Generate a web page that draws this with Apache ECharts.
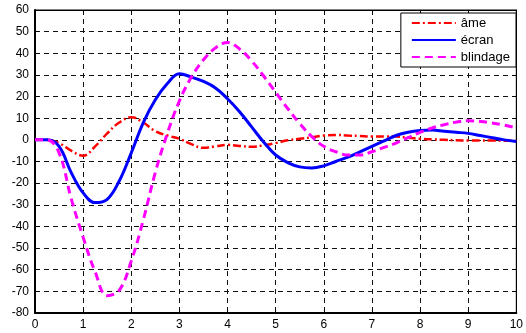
<!DOCTYPE html>
<html><head><meta charset="utf-8">
<script src="https://cdn.jsdelivr.net/npm/echarts@6/dist/echarts.min.js"></script>
<style>html,body{margin:0;padding:0;background:#fff}#c{width:526px;height:333px}</style>
</head><body><div id="c"></div>
<script>
const t = [0,0.25,0.5,0.75,1,1.25,1.5,1.75,2,2.25,2.5,2.75,3,3.25,3.5,3.75,4,4.25,4.5,4.75,5,5.25,5.5,5.75,6,6.25,6.5,6.75,7,7.25,7.5,7.75,8,8.25,8.5,8.75,9,9.25,9.5,9.75,10];
const ame = [0,0,-1.5,-5,-7.3,-3,3,8,10.5,8,4,2,0.5,-2,-3.7,-3,-2.3,-2.8,-3.2,-2.5,-1.5,-0.2,0.5,1.2,2,2.3,2,1.8,1.5,1.5,1.5,1,0.5,0.2,0,-0.2,-0.3,-0.3,-0.3,-0.4,-0.5];
const ecran = [0,0,-3,-15,-24.5,-29,-27.5,-19,-6,8,18.5,26,30.5,29,27,24,19,13,6,-1,-7,-10.5,-12.5,-13,-12,-10,-8,-5.5,-3,-0.5,2,3.5,4.3,4.5,4,3.5,3,2,1,0,-0.8];
const blindage = [0,0,-6,-27,-45,-61,-72,-69.5,-56,-37,-15,3,18,29,37,42.5,45,42,36.5,29.5,22,14.5,7.5,1.5,-3,-5.5,-7,-7,-5.5,-3.5,-1.5,1,3.5,5.5,7,8.2,8.8,8.5,7.8,6.8,5.5];
const names = ['âme','écran','blindage'];
const xTicks = [0,10,1];
const yTicks = [-80,60,10];

const pair = arr => t.map((x,i)=>[x,arr[i]]);
const font = 'Liberation Sans, Arial, sans-serif';
const gridLine = {show:true, lineStyle:{color:'#111', width:1, type:[5,4]}};
const chart = echarts.init(document.getElementById('c'));
chart.setOption({
  animation:false,
  backgroundColor:'#fff',
  grid:{left:35, right:7, top:10, bottom:20, show:true, borderColor:'#000', borderWidth:1},
  legend:{
    data:names, orient:'vertical', right:10, top:13,
    backgroundColor:'#fff', borderColor:'#000', borderWidth:1,
    padding:[3,6,3,10], itemWidth:44, itemHeight:12, itemGap:3,
    itemStyle:{opacity:0},
    textStyle:{fontFamily:font, fontSize:13, color:'#000', lineHeight:14}
  },
  xAxis:[
    {type:'value', min:xTicks[0], max:xTicks[1], interval:xTicks[2], position:'bottom',
     axisLine:{show:true, onZero:false, lineStyle:{color:'#000', width:2}},
     axisTick:{show:true, inside:true, length:4, lineStyle:{color:'#000'}},
     axisLabel:{fontFamily:font, fontSize:12, color:'#000', margin:6},
     splitLine:gridLine},
    {type:'value', min:xTicks[0], max:xTicks[1], interval:xTicks[2], position:'top',
     axisLine:{show:true, onZero:false, lineStyle:{color:'#000', width:1}},
     axisTick:{show:true, inside:true, length:4, lineStyle:{color:'#000'}},
     axisLabel:{show:false}, splitLine:{show:false}}
  ],
  yAxis:[
    {type:'value', min:yTicks[0], max:yTicks[1], interval:yTicks[2], position:'left',
     axisLine:{show:true, onZero:false, lineStyle:{color:'#000', width:2}},
     axisTick:{show:true, inside:true, length:4, lineStyle:{color:'#000'}},
     axisLabel:{fontFamily:font, fontSize:12, color:'#000', margin:6},
     splitLine:gridLine},
    {type:'value', min:yTicks[0], max:yTicks[1], interval:yTicks[2], position:'right',
     axisLine:{show:true, onZero:false, lineStyle:{color:'#000', width:1}},
     axisTick:{show:true, inside:true, length:4, lineStyle:{color:'#000'}},
     axisLabel:{show:false}, splitLine:{show:false}}
  ],
  series:[
    {name:names[0], type:'line', data:pair(ame), showSymbol:false, symbol:'none', smooth:0.4,
     itemStyle:{color:'#ff0000'}, lineStyle:{color:'#ff0000', width:2.5, type:[8,3,2,3]}},
    {name:names[1], type:'line', data:pair(ecran), showSymbol:false, symbol:'none', smooth:0.4,
     itemStyle:{color:'#0000ff'}, lineStyle:{color:'#0000ff', width:3, type:'solid'}},
    {name:names[2], type:'line', data:pair(blindage), showSymbol:false, symbol:'none', smooth:0.4,
     itemStyle:{color:'#ff00ff'}, lineStyle:{color:'#ff00ff', width:3, type:[8,5]}}
  ]
});
</script></body></html>
